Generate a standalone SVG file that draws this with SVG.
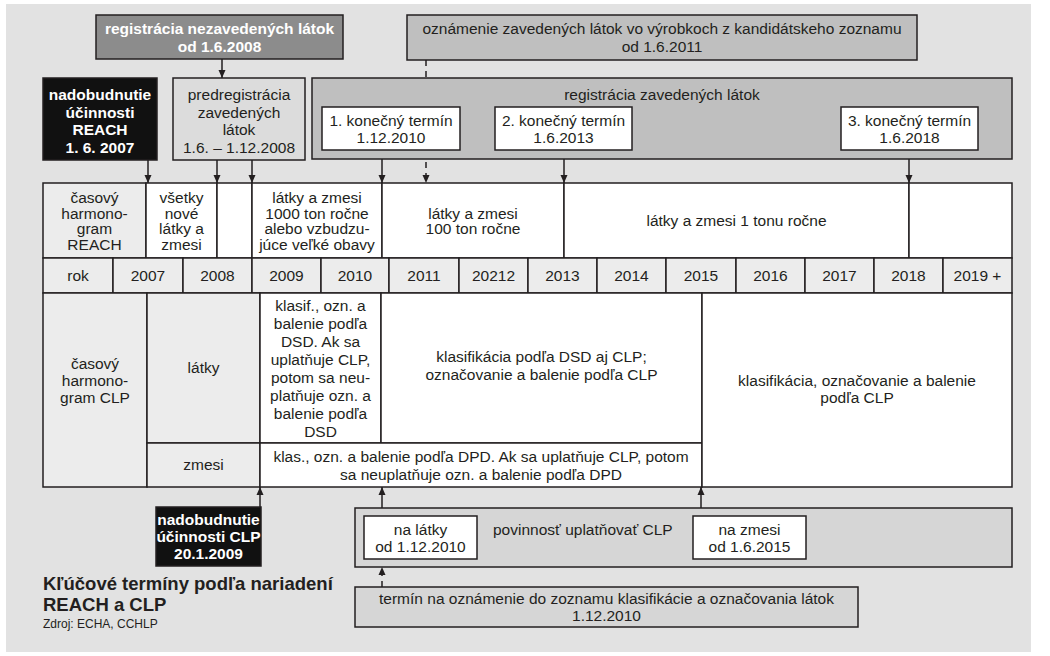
<svg xmlns="http://www.w3.org/2000/svg" width="1050" height="656" viewBox="0 0 1050 656">
  <defs>
    <style>
      text { font-family: "Liberation Sans", Arial, sans-serif; font-size: 15.5px; fill: #231f20; text-anchor: middle; }
      .b { font-weight: bold; }
      .w { fill: #ffffff; }
      .l { text-anchor: start; }
      .box { stroke: #231f20; stroke-width: 1.5; }
      .dark { fill: #8c8c8c; }
      .mid { fill: #bfbfbf; }
      .soft { fill: #d6d6d6; }
      .pale { fill: #dcdcdc; }
      .black { fill: #111111; }
      .white { fill: #ffffff; }
      .cell { fill: #ececec; }
      .conn { stroke: #231f20; stroke-width: 1.5; fill: none; }
      .dash { stroke-dasharray: 6 5; }
      .title { font-size: 18.5px; font-weight: bold; text-anchor: start; }
      .src { font-size: 12px; text-anchor: start; }
    </style>
    <marker id="ah" viewBox="0 0 8 8" refX="8" refY="4" markerWidth="8" markerHeight="8" orient="auto" markerUnits="userSpaceOnUse">
      <path d="M0,0.5 L8,4 L0,7.5 z" fill="#231f20"/>
    </marker>
  </defs>

  <!-- page panel -->
  <rect x="0" y="0" width="1050" height="656" fill="#ffffff"/>
  <rect x="6" y="4" width="1025" height="648" fill="#e2e2e2"/>

  <!-- connectors -->
  <g id="connectors">
    <line class="conn" x1="222" y1="59" x2="222" y2="78" marker-end="url(#ah)"/>
    <line class="conn" x1="148" y1="160" x2="148" y2="183" marker-end="url(#ah)"/>
    <line class="conn" x1="217" y1="160" x2="217" y2="183" marker-end="url(#ah)"/>
    <line class="conn" x1="252" y1="160" x2="252" y2="183" marker-end="url(#ah)"/>
    <line class="conn" x1="382" y1="159" x2="382" y2="183" marker-end="url(#ah)"/>
    <line class="conn dash" x1="426" y1="60" x2="426" y2="78"/>
    <line class="conn dash" x1="426" y1="162" x2="426" y2="183" marker-end="url(#ah)"/>
    <line class="conn" x1="564" y1="159" x2="564" y2="183" marker-end="url(#ah)"/>
    <line class="conn" x1="909" y1="159" x2="909" y2="183" marker-end="url(#ah)"/>
    <line class="conn" x1="260" y1="507" x2="260" y2="487" marker-end="url(#ah)"/>
    <line class="conn" x1="382" y1="508" x2="382" y2="487" marker-end="url(#ah)"/>
    <line class="conn" x1="701" y1="508" x2="701" y2="487" marker-end="url(#ah)"/>
    <line class="conn dash" x1="382" y1="587" x2="382" y2="567" marker-end="url(#ah)"/>
  </g>

  <!-- registration of non-phase-in substances -->
  <g id="reg-new">
    <rect class="box dark" x="96" y="15" width="247" height="44"/>
    <text class="b w" x="219.5" y="34">registrácia nezavedených látok</text>
    <text class="b w" x="219.5" y="52">od 1.6.2008</text>
  </g>

  <!-- notification of candidate list substances -->
  <g id="notif-articles">
    <rect class="box mid" x="407" y="15" width="510" height="45"/>
    <text x="662" y="34">oznámenie zavedených látok vo výrobkoch z kandidátskeho zoznamu</text>
    <text x="662" y="52">od 1.6.2011</text>
  </g>

  <!-- REACH entry into force -->
  <g id="reach-start">
    <rect class="box black" x="43" y="78" width="114" height="82"/>
    <text class="b w" x="100" y="100">nadobudnutie</text>
    <text class="b w" x="100" y="117.5">účinnosti</text>
    <text class="b w" x="100" y="135">REACH</text>
    <text class="b w" x="100" y="152.5">1. 6. 2007</text>
  </g>

  <!-- pre-registration -->
  <g id="prereg">
    <rect class="box pale" x="173" y="78" width="132" height="82"/>
    <text x="239" y="100">predregistrácia</text>
    <text x="239" y="117.5">zavedených</text>
    <text x="239" y="135">látok</text>
    <text x="239" y="152.5">1.6. – 1.12.2008</text>
  </g>

  <!-- registration of phase-in substances with deadlines -->
  <g id="reg-phasein">
    <rect class="box mid" x="312" y="78" width="700" height="81"/>
    <text x="662" y="100">registrácia zavedených látok</text>
  </g>
  <g id="deadline-1">
    <rect class="box white" x="322" y="107" width="138" height="43"/>
    <text x="391" y="126">1. konečný termín</text>
    <text x="391" y="143">1.12.2010</text>
  </g>
  <g id="deadline-2">
    <rect class="box white" x="495" y="107" width="137" height="43"/>
    <text x="563.5" y="126">2. konečný termín</text>
    <text x="563.5" y="143">1.6.2013</text>
  </g>
  <g id="deadline-3">
    <rect class="box white" x="841" y="107" width="137" height="43"/>
    <text x="909.5" y="126">3. konečný termín</text>
    <text x="909.5" y="143">1.6.2018</text>
  </g>

  <!-- REACH timetable row -->
  <g id="reach-row">
    <rect class="box cell" x="43" y="183" width="103" height="75"/>
    <rect class="box white" x="146" y="183" width="71" height="75"/>
    <rect class="box white" x="217" y="183" width="35" height="75"/>
    <rect class="box white" x="252" y="183" width="130" height="75"/>
    <rect class="box white" x="382" y="183" width="182" height="75"/>
    <rect class="box white" x="564" y="183" width="345" height="75"/>
    <rect class="box white" x="909" y="183" width="103" height="75"/>
    <text x="94.5" y="203">časový</text>
    <text x="94.5" y="218.5">harmono-</text>
    <text x="94.5" y="234">gram</text>
    <text x="94.5" y="249.5">REACH</text>
    <text x="181.5" y="203">všetky</text>
    <text x="181.5" y="218.5">nové</text>
    <text x="181.5" y="234">látky a</text>
    <text x="181.5" y="249.5">zmesi</text>
    <text x="317" y="203">látky a zmesi</text>
    <text x="317" y="218.5">1000 ton ročne</text>
    <text x="317" y="234">alebo vzbudzu-</text>
    <text x="317" y="249.5">júce veľké obavy</text>
    <text x="473" y="218.5">látky a zmesi</text>
    <text x="473" y="234">100 ton ročne</text>
    <text x="736.5" y="226">látky a zmesi 1 tonu ročne</text>
  </g>

  <!-- year row -->
  <g id="year-row">
    <rect class="box cell" x="43" y="258" width="70" height="35"/>
    <rect class="box cell" x="113" y="258" width="70" height="35"/>
    <rect class="box cell" x="183" y="258" width="69" height="35"/>
    <rect class="box cell" x="252" y="258" width="69" height="35"/>
    <rect class="box cell" x="321" y="258" width="68" height="35"/>
    <rect class="box cell" x="389" y="258" width="70" height="35"/>
    <rect class="box cell" x="459" y="258" width="69" height="35"/>
    <rect class="box cell" x="528" y="258" width="69" height="35"/>
    <rect class="box cell" x="597" y="258" width="69" height="35"/>
    <rect class="box cell" x="666" y="258" width="70" height="35"/>
    <rect class="box cell" x="736" y="258" width="69" height="35"/>
    <rect class="box cell" x="805" y="258" width="69" height="35"/>
    <rect class="box cell" x="874" y="258" width="69" height="35"/>
    <rect class="box cell" x="943" y="258" width="69" height="35"/>
    <text x="78" y="281">rok</text>
    <text x="148" y="281">2007</text>
    <text x="217.5" y="281">2008</text>
    <text x="286.5" y="281">2009</text>
    <text x="355" y="281">2010</text>
    <text x="424" y="281">2011</text>
    <text x="493.5" y="281">20212</text>
    <text x="562.5" y="281">2013</text>
    <text x="631.5" y="281">2014</text>
    <text x="701" y="281">2015</text>
    <text x="770.5" y="281">2016</text>
    <text x="839.5" y="281">2017</text>
    <text x="908.5" y="281">2018</text>
    <text x="977.5" y="281">2019 +</text>
  </g>

  <!-- CLP timetable -->
  <g id="clp-rows">
    <rect class="box cell" x="43" y="293" width="104" height="194"/>
    <rect class="box cell" x="147" y="293" width="113" height="150"/>
    <rect class="box cell" x="147" y="443" width="113" height="44"/>
    <rect class="box white" x="260" y="293" width="121" height="150"/>
    <rect class="box white" x="381" y="293" width="321" height="150"/>
    <rect class="box white" x="260" y="443" width="442" height="44"/>
    <rect class="box white" x="702" y="293" width="310" height="194"/>
    <text x="95" y="369">časový</text>
    <text x="95" y="386">harmono-</text>
    <text x="95" y="403">gram CLP</text>
    <text x="203.5" y="373">látky</text>
    <text x="203.5" y="470">zmesi</text>
    <text x="320.5" y="311">klasif., ozn. a</text>
    <text x="320.5" y="329">balenie podľa</text>
    <text x="320.5" y="347">DSD. Ak sa</text>
    <text x="320.5" y="365">uplatňuje CLP,</text>
    <text x="320.5" y="383">potom sa neu-</text>
    <text x="320.5" y="401">platňuje ozn. a</text>
    <text x="320.5" y="419">balenie podľa</text>
    <text x="320.5" y="437">DSD</text>
    <text x="541.5" y="362">klasifikácia podľa DSD aj CLP;</text>
    <text x="541.5" y="380">označovanie a balenie podľa CLP</text>
    <text x="481" y="462">klas., ozn. a balenie podľa DPD. Ak sa uplatňuje CLP, potom</text>
    <text x="481" y="480">sa neuplatňuje ozn. a balenie podľa DPD</text>
    <text x="857" y="386">klasifikácia, označovanie a balenie</text>
    <text x="857" y="403">podľa CLP</text>
  </g>

  <!-- CLP entry into force -->
  <g id="clp-start">
    <rect class="box black" x="156" y="507" width="105" height="59"/>
    <text class="b w" x="208.5" y="525">nadobudnutie</text>
    <text class="b w" x="208.5" y="542">účinnosti CLP</text>
    <text class="b w" x="208.5" y="559">20.1.2009</text>
  </g>

  <!-- obligation to apply CLP -->
  <g id="clp-duty">
    <rect class="box soft" x="355" y="508" width="657" height="59"/>
    <text class="l" x="493" y="535">povinnosť uplatňovať CLP</text>
  </g>
  <g id="duty-substances">
    <rect class="box white" x="364" y="516" width="113" height="43"/>
    <text x="420.5" y="535">na látky</text>
    <text x="420.5" y="552">od 1.12.2010</text>
  </g>
  <g id="duty-mixtures">
    <rect class="box white" x="693" y="516" width="113" height="43"/>
    <text x="749.5" y="535">na zmesi</text>
    <text x="749.5" y="552">od 1.6.2015</text>
  </g>

  <!-- C&L inventory notification -->
  <g id="cl-inventory">
    <rect class="box soft" x="355" y="587" width="503" height="40"/>
    <text x="606.5" y="604">termín na oznámenie do zoznamu klasifikácie a označovania látok</text>
    <text x="606.5" y="621">1.12.2010</text>
  </g>

  <!-- caption -->
  <g id="caption">
    <text class="title" x="43" y="590">Kľúčové termíny podľa nariadení</text>
    <text class="title" x="43" y="611">REACH a CLP</text>
    <text class="src" x="43" y="628">Zdroj: ECHA, CCHLP</text>
  </g>
</svg>
